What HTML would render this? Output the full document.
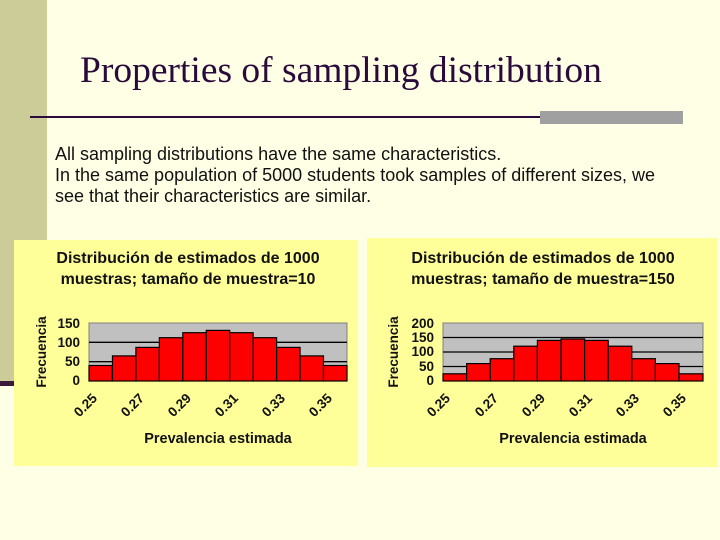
<!DOCTYPE html>
<html><head><meta charset="utf-8"><style>body{margin:0}svg{display:block}</style></head><body>
<svg width="720" height="540" viewBox="0 0 720 540" xmlns="http://www.w3.org/2000/svg" font-family="Liberation Sans, Arial, sans-serif">
<rect width="720" height="540" fill="#FFFFE6"/>
<rect x="0" y="0" width="47" height="382" fill="#CCCC99"/>
<rect x="0" y="381" width="47" height="5" fill="#3a1a3a"/>
<text x="80" y="82" font-family="Liberation Serif, serif" font-size="37.5" fill="#2a0a3a">Properties of sampling distribution</text>
<rect x="30" y="116" width="510" height="2" fill="#2a0a3a"/>
<rect x="540" y="111" width="143" height="13" fill="#A0A0A0"/>
<g font-size="18" fill="#111">
<text x="55" y="160">All sampling distributions have the same characteristics.</text>
<text x="55" y="181">In the same population of 5000 students took samples of different sizes, we</text>
<text x="55" y="202">see that their characteristics are similar.</text>
</g>
<rect x="14" y="240" width="344" height="226" fill="#FFFF99"/>
<rect x="367" y="238" width="350" height="229" fill="#FFFF99"/>
<g font-weight="bold" font-size="16" text-anchor="middle" fill="#111">
<text x="188" y="263">Distribución de estimados de 1000</text>
<text x="188" y="284">muestras; tamaño de muestra=10</text>
<text x="218" y="443" font-size="14.5">Prevalencia estimada</text>
<text x="543" y="263">Distribución de estimados de 1000</text>
<text x="543" y="284">muestras; tamaño de muestra=150</text>
<text x="573" y="443" font-size="14.5">Prevalencia estimada</text>
</g>
<!-- left chart -->
<rect x="89" y="323" width="258" height="58" fill="#C0C0C0" stroke="#808080"/>
<g stroke="#000" stroke-width="1.3"><line x1="89" y1="342.3" x2="347" y2="342.3"/><line x1="89" y1="361.7" x2="347" y2="361.7"/></g>
<g fill="#FF0000" stroke="#000" stroke-width="1.2">
<rect x="89" y="365.5" width="23.45" height="15.5"/>
<rect x="112.45" y="355.9" width="23.45" height="25.1"/>
<rect x="135.9" y="347.4" width="23.45" height="33.6"/>
<rect x="159.35" y="337.7" width="23.45" height="43.3"/>
<rect x="182.8" y="332.7" width="23.45" height="48.3"/>
<rect x="206.25" y="330.4" width="23.45" height="50.6"/>
<rect x="229.7" y="332.7" width="23.45" height="48.3"/>
<rect x="253.15" y="337.7" width="23.45" height="43.3"/>
<rect x="276.6" y="347.4" width="23.45" height="33.6"/>
<rect x="300.05" y="355.9" width="23.45" height="25.1"/>
<rect x="323.5" y="365.5" width="23.5" height="15.5"/>
</g>
<line x1="89" y1="381" x2="347" y2="381" stroke="#000"/>
<g font-weight="bold" font-size="13.5" text-anchor="end" fill="#111">
<text x="80" y="328">150</text><text x="80" y="347">100</text><text x="80" y="366">50</text><text x="80" y="385">0</text>
<text x="46" y="352" text-anchor="middle" transform="rotate(-90 46 352)">Frecuencia</text>
</g>
<g font-weight="bold" font-size="13.5" text-anchor="end" fill="#111">
<text transform="translate(98,399) rotate(-45)">0.25</text>
<text transform="translate(145,399) rotate(-45)">0.27</text>
<text transform="translate(192,399) rotate(-45)">0.29</text>
<text transform="translate(239,399) rotate(-45)">0.31</text>
<text transform="translate(286,399) rotate(-45)">0.33</text>
<text transform="translate(333,399) rotate(-45)">0.35</text>
</g>
<!-- right chart -->
<rect x="443" y="323" width="260" height="58" fill="#C0C0C0" stroke="#808080"/>
<g stroke="#000" stroke-width="1.3"><line x1="443" y1="337.5" x2="703" y2="337.5"/><line x1="443" y1="352" x2="703" y2="352"/><line x1="443" y1="366.5" x2="703" y2="366.5"/></g>
<g fill="#FF0000" stroke="#000" stroke-width="1.2">
<rect x="443" y="373.8" width="23.6" height="7.2"/>
<rect x="466.6" y="363.6" width="23.6" height="17.4"/>
<rect x="490.2" y="358.7" width="23.6" height="22.3"/>
<rect x="513.8" y="346.2" width="23.6" height="34.8"/>
<rect x="537.4" y="340.4" width="23.6" height="40.6"/>
<rect x="561" y="339" width="23.6" height="42"/>
<rect x="584.6" y="340.4" width="23.6" height="40.6"/>
<rect x="608.2" y="346.2" width="23.6" height="34.8"/>
<rect x="631.8" y="358.7" width="23.6" height="22.3"/>
<rect x="655.4" y="363.6" width="23.6" height="17.4"/>
<rect x="679" y="373.8" width="24" height="7.2"/>
</g>
<line x1="443" y1="381" x2="703" y2="381" stroke="#000"/>
<g font-weight="bold" font-size="13.5" text-anchor="end" fill="#111">
<text x="434" y="328">200</text><text x="434" y="342">150</text><text x="434" y="356">100</text><text x="434" y="371">50</text><text x="434" y="385">0</text>
<text x="398" y="352" text-anchor="middle" transform="rotate(-90 398 352)">Frecuencia</text>
</g>
<g font-weight="bold" font-size="13.5" text-anchor="end" fill="#111">
<text transform="translate(451,399) rotate(-45)">0.25</text>
<text transform="translate(499,399) rotate(-45)">0.27</text>
<text transform="translate(546,399) rotate(-45)">0.29</text>
<text transform="translate(593,399) rotate(-45)">0.31</text>
<text transform="translate(640,399) rotate(-45)">0.33</text>
<text transform="translate(687,399) rotate(-45)">0.35</text>
</g>
</svg>
</body></html>
